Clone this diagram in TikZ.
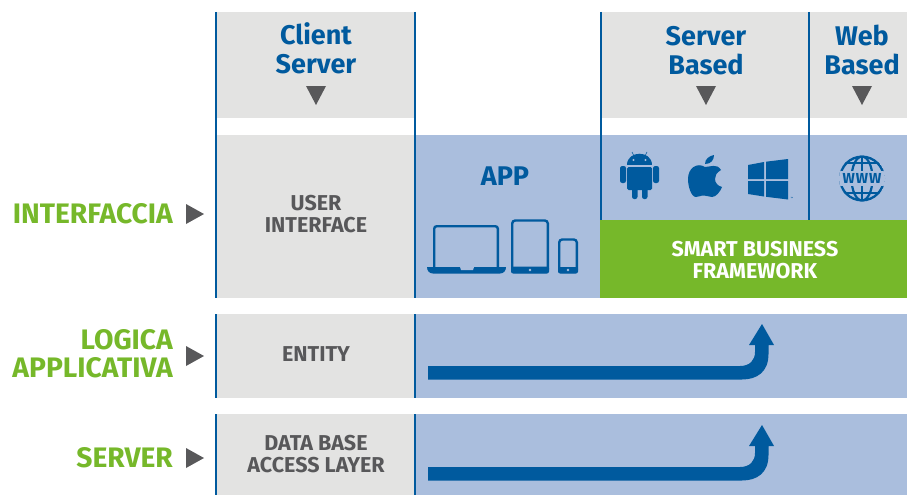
\documentclass[tikz,border=0pt]{standalone}
\usepackage{fontspec}
\setmainfont{Fira Sans}
\usetikzlibrary{shapes.geometric}
\definecolor{dblue}{HTML}{005A9E}
\definecolor{lblue}{HTML}{AABEDD}
\definecolor{lgray}{HTML}{E3E3E2}
\definecolor{dgray}{HTML}{58585A}
\definecolor{lgreen}{HTML}{76B82A}
\tikzset{
  px/.style={x=1pt,y=-1pt},
  head/.style={font=\fontsize{27}{29}\selectfont\bfseries,text=dblue,align=center,inner sep=0pt},
  cell/.style={font=\fontsize{21.5}{22}\selectfont\bfseries,text=dgray,align=center,inner sep=0pt},
  side/.style={font=\fontsize{28.2}{28}\selectfont\bfseries,text=lgreen,align=right,inner sep=0pt,anchor=east},
  vline/.style={draw=dblue,line width=2.6pt},
  tri/.style={fill=dgray},
  icon/.style={fill=dblue,draw=none},
  iconl/.style={draw=dblue,fill=none,line width=2.4pt},
}
\begin{document}
\begin{tikzpicture}[px]
\useasboundingbox (0,0) rectangle (907,495);
% fills
\fill[lgray] (216,12) rectangle (415,118);
\fill[lgray] (601,12) rectangle (907,118);
\fill[lgray] (216,135) rectangle (415,298);
\fill[lblue] (415,135) rectangle (907,298);
\fill[lgreen] (600,220) rectangle (907,298);
\fill[lgray] (216,314) rectangle (415,398);
\fill[lblue] (415,314) rectangle (907,398);
\fill[lgray] (216,414) rectangle (415,495);
\fill[lblue] (415,414) rectangle (907,495);
% vertical lines
\draw[vline] (216,12) -- (216,298);
\draw[vline] (415,12) -- (415,298);
\draw[vline] (601,12) -- (601,220);
\draw[vline] (809,12) -- (809,220);
\draw[vline] (216,314) -- (216,398);
\draw[vline] (415,314) -- (415,398);
\draw[vline] (216,414) -- (216,495);
\draw[vline] (415,414) -- (415,495);
% headers
\node[head] (client) at (316,48.2) {Client\\Server};
\node[head] (serverb) at (706,50.5) {Server\\Based};
\node[head] (web) at (862,49.5) {Web\\Based};
\fill[tri] (306,86) -- (326,86) -- (316,105) -- cycle;
\fill[tri] (696,86) -- (716,86) -- (706,105) -- cycle;
\fill[tri] (852,86) -- (872,86) -- (862,105) -- cycle;
% cells
\node[cell] (ui) at (316,214) {USER\\INTERFACE};
\node[cell] (entity) at (316,354) {ENTITY};
\node[cell] (dbal) at (316,454) {DATA BASE\\ACCESS LAYER};
\node[head] (app) at (505,176) {APP};
\node[cell,text=white] (sbf) at (755,260) {SMART BUSINESS\\FRAMEWORK};
% side labels
\node[side] (interf) at (173,214) {INTERFACCIA};
\node[side] (logica) at (173,354) {LOGICA\\APPLICATIVA};
\node[side] (server) at (173,458) {SERVER};
\fill[tri] (186,204) -- (204,214) -- (186,224) -- cycle;
\fill[tri] (186,346) -- (204,356) -- (186,366) -- cycle;
\fill[tri] (186,448) -- (204,458) -- (186,468) -- cycle;
% big arrows
\foreach \y in {0,101}{
 \fill[dblue,shift={(0,\y)}] (428,366) -- (740,366) .. controls (750,366) and (755,360) .. (755,352)
   -- (755,345) -- (749,345) -- (762,324) -- (774,345) -- (768.5,345) -- (768.5,354)
   .. controls (768.5,372) and (757,379.5) .. (742,379.5) -- (428,379.5) -- cycle;
}
% devices
\draw[iconl,rounded corners=2.5pt] (434.2,268) -- (434.2,226.2) -- (497.8,226.2) -- (497.8,268);
\fill[icon] (427,267) -- (506,267) .. controls (506,271) and (503.5,273.5) .. (500,273.5) -- (433,273.5) .. controls (429.5,273.5) and (427,271) .. (427,267) -- cycle;
\fill[lblue] (460,267) -- (474,267) -- (473,270) -- (461,270) -- cycle;
\draw[iconl,rounded corners=3pt] (512.2,220.5) rectangle (547.8,272);
\fill[icon,rounded corners=2pt] (511,266.5) rectangle (549,273.5);
\fill[lblue] (530,270) circle (1.4);
\draw[iconl,rounded corners=3pt] (559.2,239.5) rectangle (576.8,272);
\fill[icon,rounded corners=2pt] (558,267) rectangle (578,273.5);
\fill[lblue] (568,270) circle (1.4);
% android
\fill[icon] (627,165) .. controls (627,150) and (652,150) .. (652,165) -- cycle;
\draw[dblue,line width=.6pt] (634,156) -- (632,152) (645,156) -- (647,152);
\fill[lblue] (633.5,160) circle (1.1) (645.5,160) circle (1.1);
\fill[icon,rounded corners=1.5pt] (627,167) rectangle (652,190);
\fill[icon,rounded corners=2.2pt] (620,166) rectangle (626,183);
\fill[icon,rounded corners=2.2pt] (653,166) rectangle (659,183);
\fill[icon,rounded corners=2.2pt] (632,186) rectangle (637.5,199);
\fill[icon,rounded corners=2.2pt] (642,186) rectangle (647.5,199);
% apple
\fill[icon] (705,167) .. controls (710,167) and (717,163) .. (721,170) .. controls (716,173) and (715,176) .. (715,179) .. controls (715,183) and (718,186) .. (722,187)
 .. controls (720,192) and (716,197) .. (712,197) .. controls (708,197) and (708,195.5) .. (704,195.5) .. controls (700,195.5) and (699,197) .. (696,197)
 .. controls (691,197) and (688,186) .. (688,179) .. controls (688,168) and (697,162) .. (705,167) -- cycle;
\fill[icon] (705,164) .. controls (705,159) and (709,156) .. (714,155) .. controls (714,160) and (711,164) .. (705,164) -- cycle;
% windows
\fill[icon] (748,165) -- (764,162) -- (764,179) -- (748,179) -- cycle;
\fill[icon] (766,161.7) -- (788,159) -- (788,179) -- (766,179) -- cycle;
\fill[icon] (748,181) -- (764,181) -- (764,196.5) -- (748,194) -- cycle;
\fill[icon] (766,181) -- (788,181) -- (788,199.5) -- (766,196.8) -- cycle;
\node[inner sep=0pt,text=dblue,font=\fontsize{3}{3}\selectfont] (tm) at (792,198) {™};
% globe
\begin{scope}
\clip (862,178.5) circle (23);
\draw[dblue,line width=2.6pt] (862,178.5) circle (22);
\draw[dblue,line width=2.2pt] (862,178.5) ellipse (10.5 and 22);
\draw[dblue,line width=2.2pt] (862,156) -- (862,201);
\draw[dblue,line width=2.2pt] (840,163) -- (884,163) (840,193) -- (884,193);
\fill[lblue] (836,171) rectangle (888,186);
\end{scope}
\node[inner sep=0pt,text=dblue,font=\fontsize{14.5}{14.5}\selectfont\bfseries] (www) at (862,178.5) {W\hspace{1pt}W\hspace{1pt}W};
\end{tikzpicture}
\end{document}
